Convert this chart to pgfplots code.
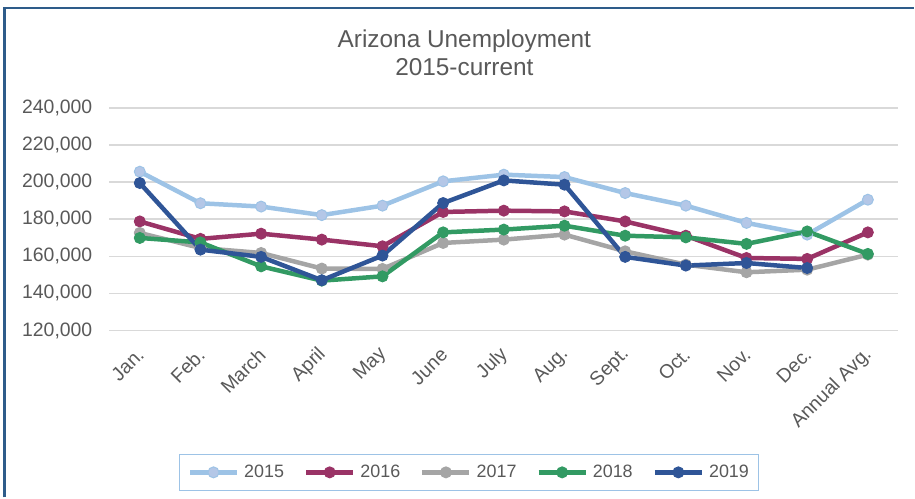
\documentclass[border=0pt]{standalone}
\usepackage{pgfplots}
\pgfplotsset{compat=1.18}
\usepackage{fontspec}
\setmainfont{Liberation Sans}
\definecolor{c15}{HTML}{9DC3E6}
\definecolor{c15f}{HTML}{B4C7E7}
\definecolor{c16}{HTML}{9A3366}
\definecolor{c17}{HTML}{A5A5A5}
\definecolor{c18}{HTML}{329A63}
\definecolor{c19}{HTML}{2F5597}
\definecolor{txt}{HTML}{595959}
\definecolor{gridc}{HTML}{D9D9D9}
\definecolor{framec}{HTML}{2E5C8A}
\begin{document}
\begin{tikzpicture}
\path (0bp,0bp) rectangle (915bp,498bp);
\draw[line width=2.5bp, framec] (4.5bp,0bp) -- (4.5bp,490bp) -- (915bp,490bp);
\node[text=txt, font=\fontsize{24.5}{28}\selectfont, anchor=base, inner sep=0pt] at (465bp,450bp) {Arizona Unemployment};
\node[text=txt, font=\fontsize{24.5}{28}\selectfont, anchor=base, inner sep=0pt] at (465bp,422bp) {2015-current};
\begin{axis}[
  at={(109.6bp,167bp)}, anchor=south west,
  scale only axis, width=789.8bp, height=223bp,
  xmin=-0.5, xmax=12.5, ymin=120000, ymax=240000,
  xtick={0,...,12},
  xticklabels={Jan.,Feb.,March,April,May,June,July,Aug.,Sept.,Oct.,Nov.,Dec.,Annual Avg.},
  ytick={120000,140000,160000,180000,200000,220000,240000},
  yticklabels={{120,000},{140,000},{160,000},{180,000},{200,000},{220,000},{240,000}},
  scaled y ticks=false,
  ymajorgrids, grid style={line width=1.5bp, gridc},
  axis line style={draw=none}, tick style={draw=none},
  tick label style={text=txt, font=\fontsize{19.5}{22}\selectfont},
  yticklabel style={inner sep=0pt, anchor=east, xshift=-17bp},
  xticklabel style={inner sep=0pt, xshift=1bp, yshift=-21bp, rotate=45, anchor=east},
  every axis plot/.append style={line width=4.5bp, mark=*, mark size=5.5bp},
  legend columns=5,
  legend style={at={(0.4563,-0.6368)}, anchor=center, draw=c15, line width=1bp,
    font=\fontsize{18}{21}\selectfont, text=txt, inner xsep=8bp, inner ysep=9bp,
    /tikz/every even column/.append style={column sep=18bp},
    /tikz/every odd column/.append style={column sep=3bp}},
  legend image code/.code={\draw[mark repeat=2, mark phase=2, #1] plot coordinates {(0bp,0bp) (23.5bp,0bp) (47bp,0bp)};},
]
\addplot[c15, mark options={fill=c15f, draw=c15, line width=1bp}] coordinates {
(0,205600) (1,188600) (2,186800) (3,182200) (4,187300) (5,200400) (6,204000) (7,202700) (8,194100) (9,187300) (10,178000) (11,171700) (12,190500)};
\addlegendentry{2015}
\addplot[c16, mark options={fill=c16, draw=c16, line width=1bp}] coordinates {
(0,178800) (1,169400) (2,172200) (3,169000) (4,165400) (5,183900) (6,184600) (7,184200) (8,178800) (9,171100) (10,159100) (11,158600) (12,172900)};
\addlegendentry{2016}
\addplot[c17, mark options={fill=c17, draw=c17, line width=1bp}] coordinates {
(0,172600) (1,164500) (2,161800) (3,153400) (4,153200) (5,167200) (6,169000) (7,171700) (8,162700) (9,155500) (10,151400) (11,152800) (12,160900)};
\addlegendentry{2017}
\addplot[c18, mark options={fill=c18, draw=c18, line width=1bp}] coordinates {
(0,169900) (1,167500) (2,154600) (3,146900) (4,149200) (5,172900) (6,174400) (7,176500) (8,171100) (9,170200) (10,166700) (11,173400) (12,161300)};
\addlegendentry{2018}
\addplot[c19, mark options={fill=c19, draw=c19, line width=1bp}] coordinates {
(0,199500) (1,163600) (2,159700) (3,147100) (4,160400) (5,188700) (6,200900) (7,198600) (8,159700) (9,155000) (10,156400) (11,153700)};
\addlegendentry{2019}
\end{axis}
\end{tikzpicture}
\end{document}
